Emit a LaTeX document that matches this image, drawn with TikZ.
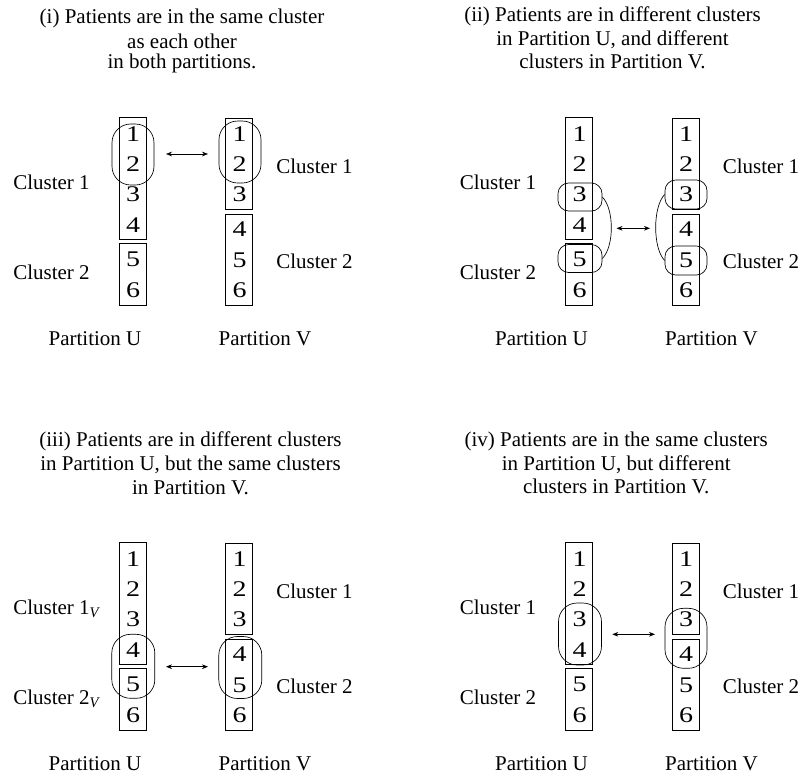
\documentclass[tikz,border=0pt]{standalone}
\usepackage{fontspec}
\setmainfont{Liberation Serif}
\usetikzlibrary{arrows.meta}
\tikzset{
  every node/.style={font=\fontsize{15.75}{18}\selectfont},
  ubox/.style={draw, line width=0.65pt, rectangle, minimum width=20.25pt, inner sep=0pt},
  digit/.style={inner sep=0pt, font=\fontsize{16.8}{18}\selectfont},
  lbl/.style={inner sep=0pt, anchor=base west},
  plbl/.style={inner sep=0pt, anchor=base},
  ttl/.style={inner sep=0pt, anchor=base},
  biggrp/.style={draw, line width=0.5pt, rectangle, inner sep=0pt, rounded corners=14pt},
  smallgrp/.style={draw, line width=0.5pt, rectangle, inner sep=0pt, rounded corners=8pt},
  dbl/.style={{Stealth[length=4.5pt,width=3.5pt]}-{Stealth[length=4.5pt,width=3.5pt]}, line width=0.5pt},
  link/.style={line width=0.5pt}
}
\newcommand\dg[1]{\scalebox{1.25}[1]{#1}}
\newcommand\panelbase[2]{%
  \node[ubox, minimum height=91.5pt] (#1u1) at (132.5,178) {};
  \node[ubox, minimum height=46.5pt] (#1u2) at (132.5,274) {};
  \node[ubox, minimum height=68.6pt] (#1v1) at (239,163.75) {};
  \node[ubox, minimum height=68.6pt] (#1v2) at (239,259.75) {};
  \foreach \n/\y in {1/134,2/164.5,3/194.5,4/225,5/259.5,6/290}
    \node[digit] (#1du\n) at (133,\y) {\dg{\n}};
  \foreach \n/\y in {1/134,2/164.5,3/194.5,4/229.5,5/260,6/290.5}
    \node[digit] (#1dv\n) at (239.5,\y) {\dg{\n}};
  \node[lbl] (#1lc1) at (13,189) {Cluster 1#2};
  \node[lbl] (#1lc2) at (13,279.3) {Cluster 2#2};
  \node[lbl] (#1rc1) at (276,173.3) {Cluster 1};
  \node[lbl] (#1rc2) at (276,268.3) {Cluster 2};
  \node[plbl] (#1pu) at (95,345) {Partition U};
  \node[plbl] (#1pv) at (265,345) {Partition V};
}
\begin{document}
\begin{tikzpicture}[x=0.75pt,y=-0.75pt]
\useasboundingbox (0,0) rectangle (800,776);

% ---------- panel (i)
\begin{scope}
  \panelbase{a}{}
  \node[ttl] (at1) at (182,23.3) {(i) Patients are in the same cluster};
  \node[ttl] (at2) at (182,48.3) {as each other};
  \node[ttl] (at3) at (182,68.3) {in both partitions.};
  \node[biggrp, minimum width=31.5pt, minimum height=45.75pt] (aue) at (133,154.5) {};
  \node[biggrp, minimum width=31.5pt, minimum height=46.5pt] (ave) at (240,152) {};
  \coordinate (aal) at (166,154);
  \coordinate (aar) at (208,154);
  \draw[dbl] (aal) -- (aar);
\end{scope}

% ---------- panel (ii)
\begin{scope}[shift={(446.5,0)}]
  \panelbase{b}{}
  \node[ttl] (bt1) at (166,21.7) {(ii) Patients are in different clusters};
  \node[ttl] (bt2) at (166,45) {in Partition U, and different};
  \node[ttl] (bt3) at (166,68.3) {clusters in Partition V.};
  \node[smallgrp, minimum width=33pt, minimum height=21pt] (bu3) at (133.5,197) {};
  \node[smallgrp, minimum width=33pt, minimum height=21pt] (bu5) at (133.5,258.5) {};
  \node[smallgrp, minimum width=31.5pt, minimum height=21.75pt] (bv3) at (239.5,194.5) {};
  \node[smallgrp, minimum width=31.5pt, minimum height=21.75pt] (bv5) at (239.5,260.5) {};
  \draw[link] (bu3.east) .. controls +(12,12) and +(12,-12) .. (bu5.east);
  \draw[link] (bv3.west) .. controls +(-12,12) and +(-12,-12) .. (bv5.west);
  \coordinate (bal) at (170,228.3);
  \coordinate (bar) at (203.5,228.3);
  \draw[dbl] (bal) -- (bar);
\end{scope}

% ---------- panel (iii)
\begin{scope}[shift={(0,425)}]
  \panelbase{c}{\textsubscript{\itshape V}}
  \node[ttl] (ct1) at (190.5,21.7) {(iii) Patients are in different clusters};
  \node[ttl] (ct2) at (190.5,45) {in Partition U, but the same clusters};
  \node[ttl] (ct3) at (190.5,69) {in Partition V.};
  \node[biggrp, minimum width=32.25pt, minimum height=48pt] (cue) at (133.3,241.3) {};
  \node[biggrp, minimum width=32.25pt, minimum height=46.5pt] (cve) at (240.3,242.5) {};
  \coordinate (cal) at (166,241.7);
  \coordinate (car) at (208,241.7);
  \draw[dbl] (cal) -- (car);
\end{scope}

% ---------- panel (iv)
\begin{scope}[shift={(446.5,425)}]
  \panelbase{d}{}
  \node[ttl] (dt1) at (169.7,21.7) {(iv) Patients are in the same clusters};
  \node[ttl] (dt2) at (169.7,45) {in Partition U, but different};
  \node[ttl] (dt3) at (169.7,68.3) {clusters in Partition V.};
  \node[biggrp, minimum width=32.25pt, minimum height=46.5pt] (due) at (133.5,209) {};
  \node[biggrp, minimum width=31.5pt, minimum height=45pt] (dve) at (239.5,213.3) {};
  \coordinate (dal) at (165.8,209.3);
  \coordinate (dar) at (208.5,209.3);
  \draw[dbl] (dal) -- (dar);
\end{scope}
\end{tikzpicture}
\end{document}
